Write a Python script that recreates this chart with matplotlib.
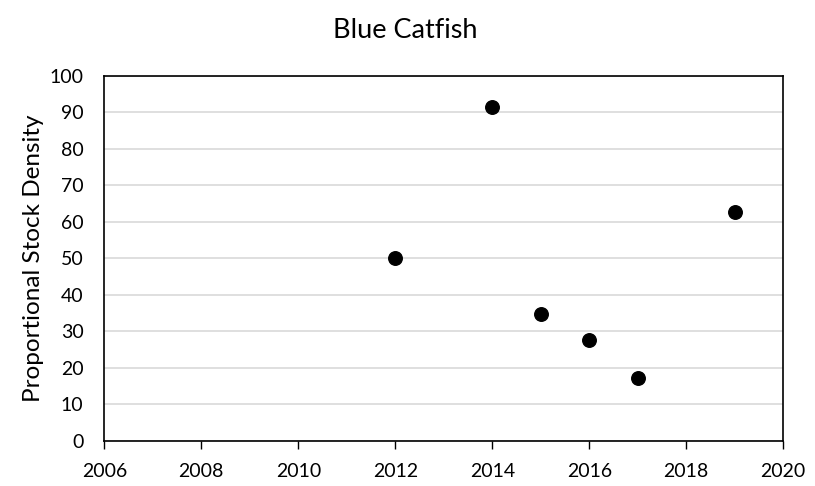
import matplotlib

matplotlib.use("Agg")
import matplotlib.pyplot as plt

years = [2012, 2014, 2015, 2016, 2017, 2019]
psd = [50.0, 91.5, 34.8, 27.7, 17.3, 62.7]
x_ticks = [2006, 2008, 2010, 2012, 2014, 2016, 2018, 2020]
y_ticks = [0, 10, 20, 30, 40, 50, 60, 70, 80, 90, 100]

plt.rcParams["font.family"] = ["Lato", "DejaVu Sans"]

figure = plt.figure(figsize=(8.15, 4.86), dpi=100)
axis = figure.add_axes([0.128, 0.093, 0.833, 0.751])

axis.scatter(years, psd, s=95, color="black", zorder=3)

axis.set_xlim(2006, 2020)
axis.set_ylim(0, 100)
axis.set_xticks(x_ticks)
axis.set_yticks(y_ticks)
axis.tick_params(axis="x", direction="out", length=6, width=1, labelsize=14, pad=10)
axis.tick_params(axis="y", length=0, labelsize=14, pad=15)
axis.grid(True, axis="y", color="#d9d9d9", linewidth=1.2, zorder=0)
axis.set_axisbelow(True)
for spine in axis.spines.values():
    spine.set_color("black")
    spine.set_linewidth(1.2)

axis.set_ylabel("Proportional Stock Density", fontsize=17.5, labelpad=4)
figure.text(0.497, 0.938, "Blue Catfish", ha="center", va="center", fontsize=19.5)

figure.savefig("out.png", facecolor="white")
